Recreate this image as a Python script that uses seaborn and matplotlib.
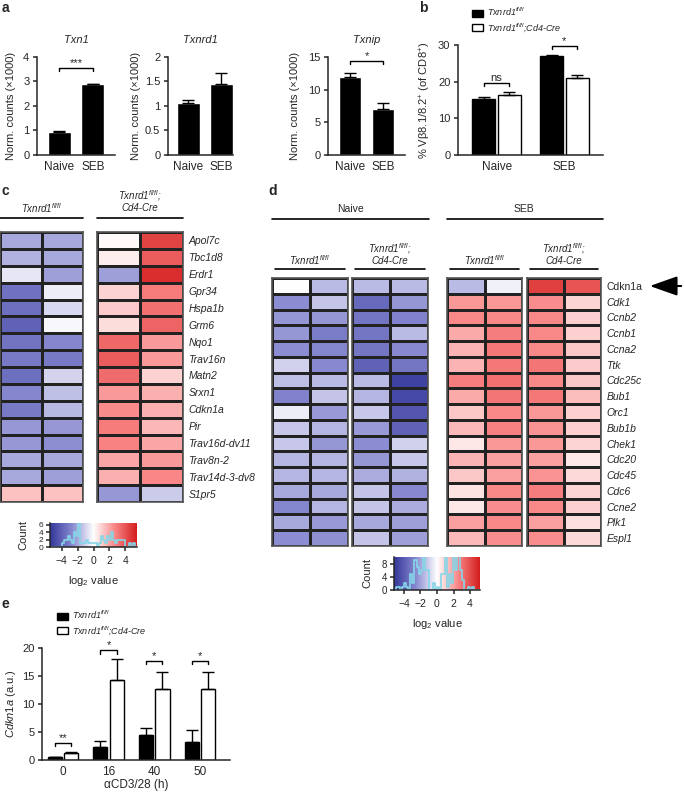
import numpy as np
import pandas as pd
import matplotlib
matplotlib.use("Agg")
import matplotlib.pyplot as plt
import seaborn as sns
from matplotlib.colors import LinearSegmentedColormap
from matplotlib.lines import Line2D
from matplotlib.patches import Patch, FancyArrowPatch

# ---- data -------------------------------------------------------------
conditions = ['Naive', 'SEB']
txn1_mean = [0.92, 2.90]
txn1_err = [0.07, 0.01]
txnrd1_mean = [1.07, 1.44]
txnrd1_err = [0.05, 0.24]
txnip_mean = [12.0, 7.1]
txnip_err = [0.6, 0.85]

genotypes = [r'Txnrd1$^{fl/fl}$', r'Txnrd1$^{fl/fl}$;Cd4-Cre']
vb_flfl = [15.3, 27.0]
vb_flfl_err = [0.4, 0.4]
vb_cre = [16.4, 20.9]
vb_cre_err = [0.7, 0.9]

timepoints = ['0', '16', '40', '50']
cdkn_flfl = [0.5, 2.3, 4.4, 3.2]
cdkn_flfl_err = [0.1, 1.1, 1.4, 2.1]
cdkn_cre = [1.3, 14.2, 12.7, 12.7]
cdkn_cre_err = [0.05, 3.8, 3.0, 3.0]

c_genes = ['Apol7c', 'Tbc1d8', 'Erdr1', 'Gpr34', 'Hspa1b', 'Grm6', 'Nqo1', 'Trav16n',
           'Matn2', 'Srxn1', 'Cdkn1a', 'Pir', 'Trav16d-dv11', 'Trav8n-2',
           'Trav14d-3-dv8', 'S1pr5']
c_flfl = [[-2.0, -2.0], [-1.8, -2.0], [-0.6, -2.2], [-3.5, -0.4], [-3.6, -0.9],
          [-4.0, -0.2], [-3.4, -2.8], [-3.2, -3.2], [-3.6, -1.0], [-2.8, -1.5],
          [-3.2, -1.6], [-2.4, -2.4], [-2.4, -2.6], [-2.0, -2.0], [-2.0, -2.2],
          [1.4, 1.4]]
c_cre = [[0.1, 4.5], [0.4, 3.8], [-2.2, 5.0], [1.0, 3.0], [1.2, 3.3], [0.8, 3.6],
         [3.5, 2.3], [3.8, 2.3], [3.4, 1.0], [2.3, 1.8], [2.6, 1.8], [3.0, 1.6],
         [2.8, 2.0], [2.0, 2.3], [1.8, 2.7], [-2.4, -1.2]]

d_genes = ['Cdkn1a', 'Cdk1', 'Ccnb2', 'Ccnb1', 'Ccna2', 'Ttk', 'Cdc25c', 'Bub1', 'Orc1',
           'Bub1b', 'Chek1', 'Cdc20', 'Cdc45', 'Cdc6', 'Ccne2', 'Plk1', 'Espl1']
d_naive_flfl = [[0.0, -1.5], [-2.5, -1.3], [-2.3, -2.3], [-2.3, -3.0], [-2.5, -2.7],
                [-1.0, -2.6], [-1.4, -1.5], [-2.8, -1.3], [-0.4, -2.2], [-1.2, -1.6],
                [-1.2, -2.3], [-1.6, -1.6], [-1.6, -1.6], [-1.9, -1.9], [-2.7, -1.6],
                [-1.9, -2.2], [-2.5, -2.4]]
d_naive_cre = [[-1.5, -1.5], [-3.6, -2.3], [-3.2, -2.8], [-3.2, -1.5], [-3.2, -2.6],
               [-3.8, -3.2], [-1.5, -4.8], [-1.6, -4.6], [-1.2, -4.2], [-2.2, -3.8],
               [-2.5, -1.0], [-2.3, -1.2], [-1.8, -1.7], [-1.3, -2.6], [-1.3, -1.8],
               [-1.9, -2.1], [-1.3, -2.1]]
d_seb_flfl = [[-1.5, -0.3], [2.2, 2.2], [2.5, 2.5], [1.8, 2.8], [1.6, 2.9],
              [1.6, 2.9], [2.8, 3.1], [1.8, 3.0], [1.2, 2.5], [1.5, 2.7],
              [0.5, 2.2], [1.6, 2.0], [1.2, 2.0], [0.6, 2.5], [0.5, 2.4],
              [2.0, 2.5], [1.5, 2.4]]
d_seb_cre = [[4.3, 3.8], [2.4, 0.9], [2.5, 1.0], [2.5, 1.0], [2.5, 1.2],
             [3.0, 1.1], [2.5, 1.2], [2.9, 1.4], [2.2, 1.0], [2.3, 1.0],
             [2.2, 0.9], [2.0, 0.5], [2.3, 0.8], [2.8, 0.9], [2.5, 1.0],
             [2.0, 0.7], [2.4, 0.8]]

# ---- style ------------------------------------------------------------
sns.set_style("ticks")
plt.rcParams['font.family'] = ['Liberation Sans', 'DejaVu Sans']
plt.rcParams['mathtext.fontset'] = 'custom'
plt.rcParams['mathtext.rm'] = 'Liberation Sans'
plt.rcParams['mathtext.it'] = 'Liberation Sans:italic'
plt.rcParams['font.size'] = 8
plt.rcParams['axes.linewidth'] = 1.1
plt.rcParams['xtick.major.width'] = 1.1
plt.rcParams['ytick.major.width'] = 1.1
plt.rcParams['ytick.major.size'] = 3
plt.rcParams['xtick.major.size'] = 3

heat_cmap = LinearSegmentedColormap.from_list(
    'bwr_like', ['#34379a', '#8788cf', '#ffffff', '#f98585', '#d41c1c'])

W, H = 685, 793
fig = plt.figure(figsize=(W / 100, H / 100), dpi=100)


def box(x0, y0, x1, y1):
    return fig.add_axes([x0 / W, 1 - y1 / H, (x1 - x0) / W, (y1 - y0) / H])


def ftext(x, y, s, **kw):
    fig.text(x / W, 1 - y / H, s, **kw)


def hline(x0, x1, y):
    fig.add_artist(Line2D([x0 / W, x1 / W], [1 - y / H, 1 - y / H],
                          color='black', lw=1.2, transform=fig.transFigure))


def bracket(ax, x1, x2, h, label, drop):
    ax.plot([x1, x1, x2, x2], [h - drop, h, h, h - drop], color='black', lw=1, clip_on=False)
    ax.text((x1 + x2) / 2, h, label, ha='center', va='bottom', fontsize=8)


def style_bar_axes(ax, ylim, yticks, ylabel, ylab_x):
    sns.despine(ax=ax)
    ax.set_ylim(*ylim)
    ax.set_yticks(yticks)
    ax.set_xlabel('')
    ax.set_ylabel(ylabel, fontsize=8)
    ax.yaxis.set_label_coords(ylab_x, 0.5)
    ax.tick_params(axis='x', length=0, pad=4, labelsize=8.5)
    ax.tick_params(axis='y', labelsize=8, pad=2.5)


def simple_bars(ax, means, errs, title, ylim, yticks, xlim, ylab_x, sig=None):
    df = pd.DataFrame({'cond': conditions, 'val': means})
    sns.barplot(data=df, x='cond', y='val', color='black', saturation=1, width=0.68,
                errorbar=None, ax=ax)
    ax.errorbar(range(len(means)), means, yerr=[np.zeros(len(errs)), errs], fmt='none',
                ecolor='black', elinewidth=1, capsize=4, capthick=1)
    ax.set_xlim(*xlim)
    style_bar_axes(ax, ylim, yticks, 'Norm. counts (\u00d71000)', ylab_x)
    ax.set_yticklabels([f'{t:g}' for t in yticks])
    ax.set_title(title, style='italic', fontsize=8, pad=10)
    if sig is not None:
        bracket(ax, 0, 1, sig[0], sig[1], ylim[1] * 0.03)


# ---- panel a ----------------------------------------------------------
ax1 = box(37, 57, 115, 155)
simple_bars(ax1, txn1_mean, txn1_err, 'Txn1', (0, 4), [0, 1, 2, 3, 4],
            (-0.66, 1.66), -0.27, sig=(3.55, '***'))
ax2 = box(168, 57, 233, 155)
simple_bars(ax2, txnrd1_mean, txnrd1_err, 'Txnrd1', (0, 2), [0, 0.5, 1, 1.5, 2],
            (-0.62, 1.35), -0.41)
ax3 = box(328, 57, 405, 155)
simple_bars(ax3, txnip_mean, txnip_err, 'Txnip', (0, 15), [0, 5, 10, 15],
            (-0.67, 1.67), -0.36, sig=(14.4, '*'))

# ---- panel b ----------------------------------------------------------
axb = box(458, 45, 603, 155)
dfb = pd.DataFrame({'cond': conditions * 2,
                    'geno': [genotypes[0]] * 2 + [genotypes[1]] * 2,
                    'val': vb_flfl + vb_cre})
sns.barplot(data=dfb, x='cond', y='val', hue='geno', palette=['black', 'white'],
            saturation=1, width=0.76, gap=0.12, errorbar=None, edgecolor='black',
            linewidth=1, ax=axb, legend=False)
centers_b = []
for cont, errs in zip(axb.containers, [vb_flfl_err, vb_cre_err]):
    cs = []
    for bar, e in zip(cont, errs):
        x = bar.get_x() + bar.get_width() / 2
        cs.append(x)
        axb.errorbar(x, bar.get_height(), yerr=[[0], [e]], fmt='none', ecolor='black',
                     elinewidth=1, capsize=4, capthick=1)
    centers_b.append(cs)
axb.set_xlim(-0.57, 1.57)
style_bar_axes(axb, (0, 30), [0, 10, 20, 30], '% V\u03b28.1/8.2$^{+}$ (of CD8$^{+}$)', -0.17)
bracket(axb, centers_b[0][0], centers_b[1][0], 19.7, 'ns', 0.9)
bracket(axb, centers_b[0][1], centers_b[1][1], 29.8, '*', 0.9)

leg_handles = [Patch(facecolor='black', edgecolor='black'),
               Patch(facecolor='white', edgecolor='black')]
leg_kw = dict(loc='upper left', frameon=False, prop={'style': 'italic', 'size': 6.5},
              handlelength=1.2, handleheight=0.9, labelspacing=0.3, borderpad=0,
              borderaxespad=0, handletextpad=0.5)
fig.legend(leg_handles, genotypes, bbox_to_anchor=(472 / W, 1 - 6 / H), **leg_kw)

# ---- panel e ----------------------------------------------------------
axe = box(42, 648, 230, 760)
dfe = pd.DataFrame({'t': timepoints * 2,
                    'geno': [genotypes[0]] * 4 + [genotypes[1]] * 4,
                    'val': cdkn_flfl + cdkn_cre})
sns.barplot(data=dfe, x='t', y='val', hue='geno', palette=['black', 'white'],
            saturation=1, width=0.72, gap=0.14, errorbar=None, edgecolor='black',
            linewidth=1, ax=axe, legend=False)
centers_e = []
for cont, errs in zip(axe.containers, [cdkn_flfl_err, cdkn_cre_err]):
    cs = []
    for bar, e in zip(cont, errs):
        x = bar.get_x() + bar.get_width() / 2
        cs.append(x)
        axe.errorbar(x, bar.get_height(), yerr=[[0], [e]], fmt='none', ecolor='black',
                     elinewidth=1, capsize=4, capthick=1)
    centers_e.append(cs)
axe.set_xlim(-0.46, 3.66)
style_bar_axes(axe, (0, 20), [0, 5, 10, 15, 20], r'$\mathit{Cdkn1a}$ (a.u.)', -0.125)
axe.set_xlabel('\u03b1CD3/28 (h)', fontsize=8.5, labelpad=1)
for i, (h, lab) in enumerate(zip([3.1, 19.6, 17.7, 17.7], ['**', '*', '*', '*'])):
    bracket(axe, centers_e[0][i], centers_e[1][i], h, lab, 0.6)
fig.legend(leg_handles, genotypes, bbox_to_anchor=(57 / W, 1 - 609 / H), **leg_kw)


# ---- heatmaps ---------------------------------------------------------
def heat_block(rect, values, vlim, genes=None, plain=()):
    ax = box(*rect)
    sns.heatmap(np.array(values), ax=ax, cmap=heat_cmap, vmin=-vlim, vmax=vlim,
                cbar=False, linewidths=0.8, linecolor='#222222', xticklabels=False,
                yticklabels=genes if genes is not None else False)
    for sp in ax.spines.values():
        sp.set_visible(True)
        sp.set_color('#555555')
        sp.set_linewidth(1.2)
    if genes is not None:
        ax.yaxis.tick_right()
        ax.tick_params(axis='y', length=0, pad=4, labelsize=7.5)
        for lab in ax.get_yticklabels():
            lab.set_rotation(0)
            lab.set_style('normal' if lab.get_text() in plain else 'italic')
    return ax


def key_panel(rect, values, vlim, ymax, yticks, ysize):
    ax = box(*rect)
    grad = np.linspace(-vlim, vlim, 256)[None, :]
    ax.imshow(grad, cmap=heat_cmap, aspect='auto', extent=[-vlim, vlim, 0, ymax],
              vmin=-vlim, vmax=vlim, zorder=0)
    sns.histplot(x=np.ravel(values), binwidth=0.25, binrange=(-vlim, vlim), element='step',
                 fill=False, color='#86d6e8', linewidth=1.2, ax=ax, zorder=2)
    ax.set_xlim(-vlim, vlim)
    ax.set_ylim(0, ymax)
    ax.set_xticks([-4, -2, 0, 2, 4])
    ax.set_xticklabels(['\u22124', '\u22122', '0', '2', '4'])
    ax.set_yticks(yticks)
    ax.tick_params(axis='x', labelsize=7.5, length=3)
    ax.tick_params(axis='y', labelsize=ysize, length=3, pad=2)
    sns.despine(ax=ax)
    ax.set_ylabel('Count', fontsize=8)
    ax.set_xlabel('log$_2$ value', fontsize=8, labelpad=6)
    ax.yaxis.set_label_coords(-0.25, 0.5)
    return ax


# panel c
heat_block((0, 232, 83, 502), c_flfl, 5.5)
heat_block((97, 232, 183, 502), c_cre, 5.5, genes=c_genes)
ftext(42, 208, r'Txnrd1$^{fl/fl}$', ha='center', va='center', style='italic', fontsize=7)
ftext(140, 196, r'Txnrd1$^{fl/fl}$;', ha='center', va='center', style='italic', fontsize=7)
ftext(140, 208, 'Cd4-Cre', ha='center', va='center', style='italic', fontsize=7)
hline(0, 83, 218)
hline(97, 183, 218)
key_panel((50, 523, 137, 547), [c_flfl, c_cre], 5.5, 6.5, [0, 2, 4, 6], 6)

# panel d
d_blocks = [(272, 348, d_naive_flfl), (352, 428, d_naive_cre),
            (447, 522, d_seb_flfl), (527, 601, d_seb_cre)]
for i, (x0, x1, vals) in enumerate(d_blocks):
    heat_block((x0, 278, x1, 546), vals, 5.2,
               genes=d_genes if i == 3 else None, plain=('Cdkn1a',))
    cx = (x0 + x1) / 2
    if i % 2 == 0:
        ftext(cx, 260, r'Txnrd1$^{fl/fl}$', ha='center', va='center', style='italic', fontsize=7)
    else:
        ftext(cx, 249, r'Txnrd1$^{fl/fl}$;', ha='center', va='center', style='italic', fontsize=7)
        ftext(cx, 261, 'Cd4-Cre', ha='center', va='center', style='italic', fontsize=7)
    hline(x0 + 3, x1 - 3, 269)
ftext(350, 209, 'Naive', ha='center', va='center', fontsize=7.5)
ftext(524, 209, 'SEB', ha='center', va='center', fontsize=7.5)
hline(272, 429, 219)
hline(447, 603, 219)
fig.add_artist(FancyArrowPatch((684 / W, 1 - 286 / H), (647 / W, 1 - 286 / H),
                               transform=fig.transFigure, color='black', lw=1.5,
                               arrowstyle='-|>,head_length=1.7,head_width=0.6',
                               mutation_scale=10))
key_panel((394, 557, 480, 590), [d_naive_flfl, d_naive_cre, d_seb_flfl, d_seb_cre],
          5.2, 10, [0, 4, 8], 7)

# ---- panel letters ----------------------------------------------------
for lx, ly, letter in [(2, 1, 'a'), (419, 1, 'b'), (1, 184, 'c'), (268, 184, 'd'), (1, 597, 'e')]:
    ftext(lx, ly, letter, ha='left', va='top', fontsize=10, fontweight='bold')

fig.savefig('out.png', dpi=100)
